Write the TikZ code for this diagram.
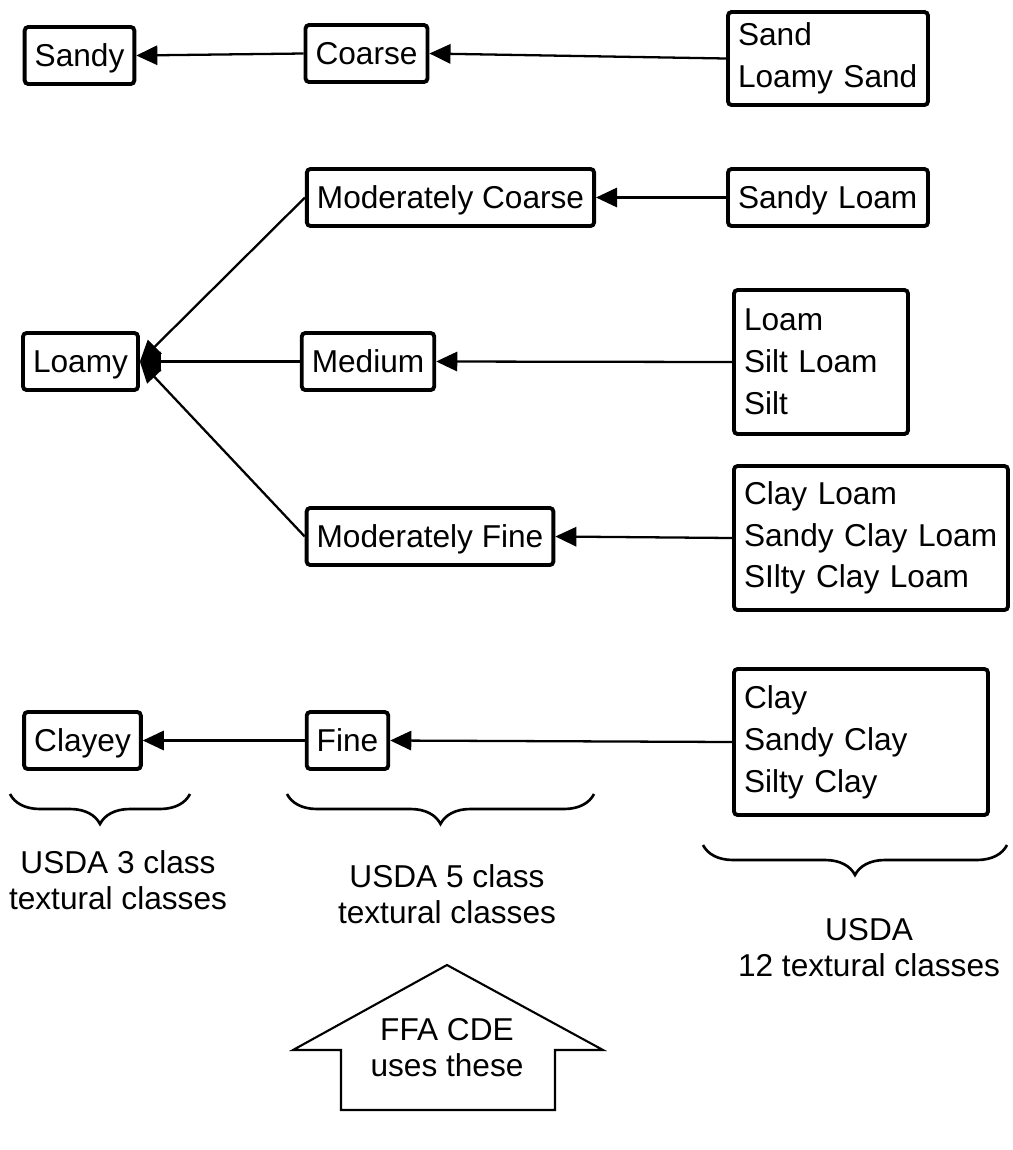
\documentclass[tikz,border=0pt]{standalone}
\usepackage{fontspec}
\setmainfont{Liberation Sans}
\usetikzlibrary{arrows.meta,decorations.pathreplacing}

\begin{document}
\begin{tikzpicture}[x=0.02cm,y=-0.02cm,
  box/.style={draw, line width=2.2pt, rounded corners=2pt, inner xsep=0.2cm,
    minimum height=1.14cm, font=\fontsize{18}{23.8}\selectfont},
  one/.style={box, text height=12.9pt, text depth=0pt},
  lst/.style={box, align=left, text width=#1},
  arr/.style={line width=1.3pt, -{Triangle[length=12pt,width=11pt]}},
  brc/.style={line width=1.5pt, decorate, decoration={brace, mirror, amplitude=0.6cm}},
  lbl/.style={align=center, font=\fontsize{18}{20.5}\selectfont}]
  \useasboundingbox (0,0) rectangle (1013,1150);

  \coordinate (Sy) at (79.5, 55.5);
  \coordinate (Co) at (366.5, 53.5);
  \coordinate (Sd) at (828, 58.5);
  \node[one] (sandy) at (Sy) {Sandy};
  \node[one] (coarse) at (Co) {Coarse};
  \node[lst=3.6cm, minimum height=1.86cm] (sand) at (Sd) {Sand\\Loamy Sand};
  \draw[arr] (sand.west) -- (coarse.east);
  \draw[arr] (coarse.west) -- (sandy.east);

  \coordinate (Ly) at (80.5, 361.5);
  \coordinate (MC) at (450.5, 197.5);
  \coordinate (SL) at (828, 197.5);
  \coordinate (Me) at (368, 361.5);
  \coordinate (Lm) at (821, 362);
  \coordinate (MF) at (430, 536.5);
  \coordinate (CL) at (871, 538);
  \node[one] (loamy) at (Ly) {Loamy};
  \node[one] (modcoarse) at (MC) {Moderately Coarse};
  \node[lst=3.6cm, text height=12.9pt, text depth=0pt] (sandyloam) at (SL) {Sandy Loam};
  \node[one] (medium) at (Me) {Medium};
  \node[lst=3.08cm, minimum height=2.88cm] (loam) at (Lm) {Loam\\Silt Loam\\Silt};
  \node[one] (modfine) at (MF) {Moderately Fine};
  \node[lst=5.08cm, minimum height=2.88cm] (clayloam) at (CL) {Clay Loam\\Sandy Clay Loam\\SIlty Clay Loam};
  \draw[arr] (sandyloam.west) -- (modcoarse.east);
  \draw[arr] (loam.west) -- (medium.east);
  \draw[arr] (clayloam.west) -- (modfine.east);
  \draw[arr] (modcoarse.west) -- (loamy.east);
  \draw[arr] (medium.west) -- (loamy.east);
  \draw[arr] (modfine.west) -- (loamy.east);

  \coordinate (Ce) at (82.5, 740.5);
  \coordinate (Fi) at (347.5, 740.5);
  \coordinate (Cl) at (861, 742);
  \node[one] (clayey) at (Ce) {Clayey};
  \node[one] (fine) at (Fi) {Fine};
  \node[lst=4.68cm, minimum height=2.92cm] (clay) at (Cl) {Clay\\Sandy Clay\\Silty Clay};
  \draw[arr] (clay.west) -- (fine.east);
  \draw[arr] (fine.west) -- (clayey.east);

  \coordinate (B1l) at (10, 794);
  \coordinate (B1r) at (190, 794);
  \coordinate (B2l) at (287, 794);
  \coordinate (B2r) at (594, 794);
  \coordinate (B3l) at (703, 845);
  \coordinate (B3r) at (1007, 845);
  \draw[brc] (B1l) -- (B1r);
  \draw[brc] (B2l) -- (B2r);
  \draw[brc] (B3l) -- (B3r);
  \node[lbl] (usda3) at (118, 880) {USDA 3 class\\textural classes};
  \node[lbl] (usda5) at (447, 894) {USDA 5 class\\textural classes};
  \node[lbl] (usda12) at (869, 948) {USDA\\12 textural classes};

  \draw[line width=1.2pt, fill=white] (447, 965) -- (603, 1050) -- (555, 1050) -- (555, 1110)
    -- (341, 1110) -- (341, 1050) -- (293, 1050) -- cycle;
  \node[lbl] (ffa) at (447, 1048) {FFA CDE\\uses these};
\end{tikzpicture}
\end{document}
